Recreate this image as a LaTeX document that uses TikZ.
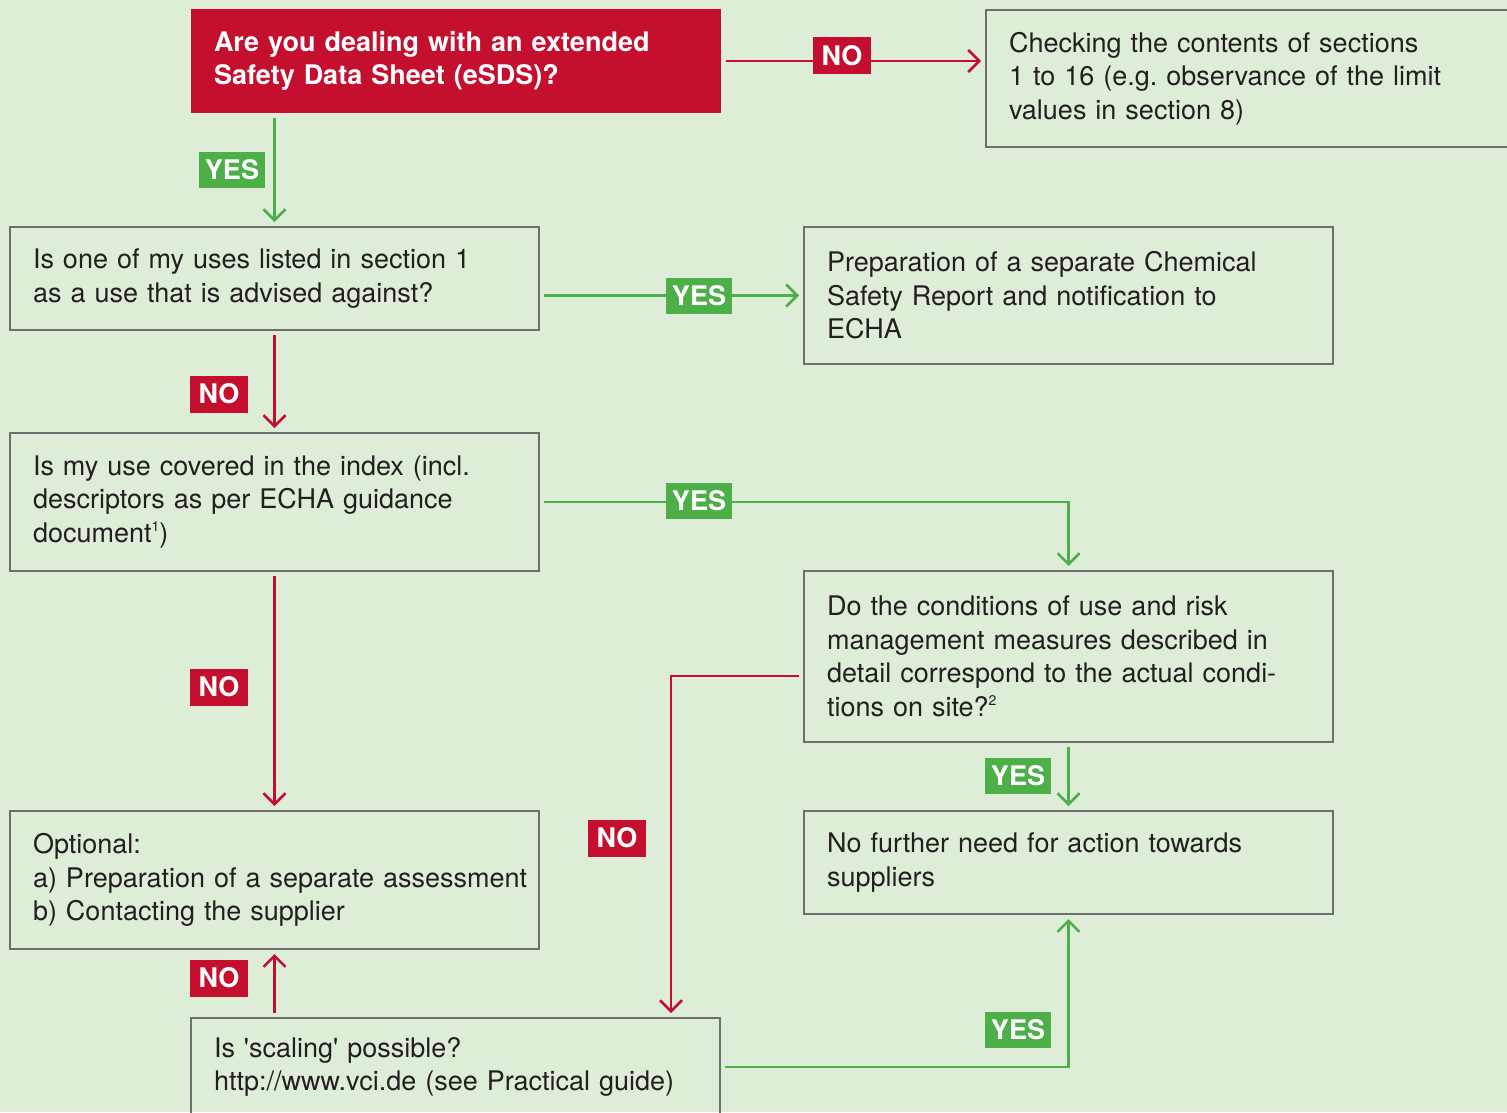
\documentclass[tikz,border=0pt]{standalone}
\usepackage{fontspec}
\setmainfont{TeX Gyre Heros}
\usetikzlibrary{arrows.meta}
\frenchspacing
\definecolor{colorBG}{HTML}{DEEDD8}
\definecolor{colorNO}{HTML}{C4102E}
\definecolor{colorYES}{HTML}{4DAF47}
\definecolor{colorBOX}{HTML}{6E6E6E}
\definecolor{colorTXT}{HTML}{231F20}
\newcommand{\txtfont}{\fontsize{27}{33.5}\selectfont}
\newcommand{\fnote}[1]{\raisebox{0.8ex}{\fontsize{14}{14}\selectfont #1}}
\tikzset{
   every path/.style={>={Straight Barb[length=11pt,width=22pt]}},
   yes/.style={->,color=colorYES,line width=2.5pt,shorten >=5pt,shorten <=5pt},
   no/.style={->,color=colorNO,line width=2.5pt,shorten >=5pt,shorten <=5pt},
   box/.style={draw=colorBOX,line width=1.5pt,anchor=north west,inner xsep=23pt,inner ysep=0pt,
     outer sep=0pt,align=left,text=colorTXT,font=\txtfont,text width=483pt},
   qbox/.style={fill=colorNO,anchor=north west,inner xsep=23pt,inner ysep=0pt,outer sep=0pt,
     align=left,text=white,font=\txtfont\bfseries,text width=484pt},
   ylab/.style={fill=colorYES,text=white,font=\txtfont\bfseries,inner xsep=6pt,inner ysep=0pt,
     minimum height=36pt},
   nlab/.style={fill=colorNO,text=white,font=\txtfont\bfseries,inner xsep=9pt,inner ysep=0pt,
     minimum height=37pt},
 }
\newcommand{\dyes}[2]{\draw[yes] (#1) -- (#2)}
\newcommand{\dno}[2]{\draw[no] (#1) -- (#2)}

\begin{document}
\begin{tikzpicture}[x=1pt,y=-1pt]
      \path[use as bounding box,fill=colorBG] (0,0) rectangle (1507,1112);

      % left column
      \node[qbox,minimum height=104pt] (QESDS) at (191,9) {Are you dealing with an extended\\Safety Data Sheet (eSDS)?};
      \node[box,minimum height=103pt] (QUSE) at (10,227) {Is one of my uses listed in section 1\\as a use that is advised against?};
      \node[box,minimum height=138pt] (QIDX) at (10,433) {Is my use covered in the index (incl.\\descriptors as per ECHA guidance\\document\fnote{1})};
      \node[box,minimum height=138pt] (AOPT) at (10,811) {Optional:\\\mbox{a) Preparation of a separate assessment}\\b) Contacting the supplier};
      \node[box,minimum height=98pt] (QSCAL) at (191,1018) {Is \textquotesingle scaling\textquotesingle{} possible?\\http://www.vci.de (see Practical guide)};

      % right column
      \node[box,text width=514pt,minimum height=137pt] (ACHECK) at (986,10) {Checking the contents of sections\\1 to 16 (e.g. observance of the limit\\values in section 8)};
      \node[box,minimum height=137pt] (ACSR) at (804,227) {Preparation of a separate Chemical\\Safety Report and notification to\\ECHA};
      \node[box,minimum height=171pt] (QCOND) at (804,571) {Do the conditions of use and risk\\management measures described in\\detail correspond to the actual condi-\\tions on site?\fnote{2}};
      \node[box,minimum height=103pt] (ANONE) at (804,811) {No further need for action towards\\suppliers};

      % connectors
      \dno{QESDS}{QESDS -| ACHECK.west};
      \dyes{QESDS.south -| QUSE}{QUSE};
      \dyes{QUSE.east |- ACSR}{ACSR.west};
      \dno{QUSE}{QIDX};
      \draw[yes] (QIDX.east) -- (QIDX.east -| QCOND.north) -- (QCOND.north);
      \dno{QIDX}{AOPT};
      \coordinate (CBEND) at (671,676);
      \draw[no] (QCOND.west |- CBEND) -- (CBEND) -- (CBEND |- QSCAL.north);
      \dyes{QCOND}{ANONE};
      \dno{QSCAL.north -| AOPT}{AOPT.south};
      \draw[yes] (QSCAL.east) -- (QSCAL.east -| ANONE) -- (ANONE.south);

      % answers
      \node[nlab] (LNO1) at (842,55.5) {NO};
      \node[ylab] (LYES1) at (232,170) {YES};
      \node[ylab] (LYES2) at (699,296) {YES};
      \node[nlab] (LNO2) at (219,394) {NO};
      \node[ylab] (LYES3) at (699,501) {YES};
      \node[nlab] (LNO3) at (219,687) {NO};
      \node[nlab] (LNO4) at (617,838) {NO};
      \node[ylab] (LYES4) at (1018,776) {YES};
      \node[nlab] (LNO5) at (219,978) {NO};
      \node[ylab] (LYES5) at (1018,1030) {YES};
    \end{tikzpicture}
\end{document}
